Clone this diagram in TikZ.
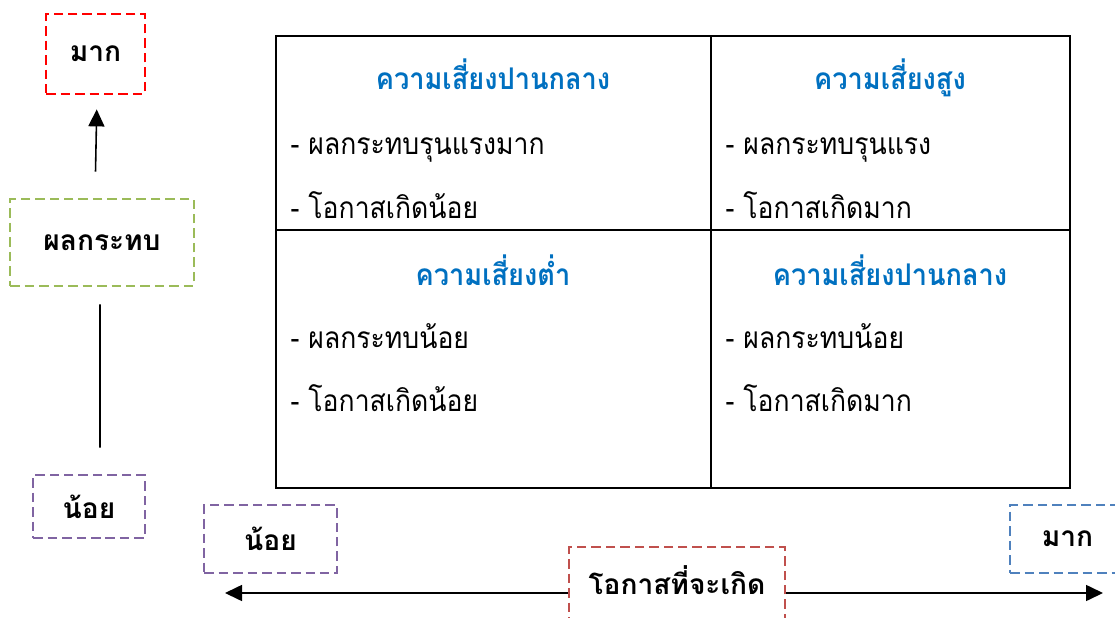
\documentclass[tikz,border=0pt]{standalone}
\usepackage{fontspec}
\setmainfont[Script=Thai]{Loma}
\newfontfamily\itemfont[Script=Thai,FakeStretch=0.89]{Loma}
\newfontfamily\headfont[Script=Thai,FakeStretch=0.91]{Loma}
\usepackage{tikz}
\usetikzlibrary{arrows.meta,positioning}
\definecolor{headblue}{RGB}{0,112,192}
\definecolor{boxred}{RGB}{255,0,0}
\definecolor{boxgreen}{RGB}{155,187,89}
\definecolor{boxpurple}{RGB}{128,100,162}
\definecolor{boxbrick}{RGB}{192,80,77}
\definecolor{boxblue}{RGB}{79,129,189}

\begin{document}
\begin{tikzpicture}
[x=0.02cm,y=-0.02cm,>={Triangle[length=0.34cm,width=0.32cm]},line width=0.9pt]
\tikzstyle{dashbox}=[draw,dash pattern=on 0.19cm off 0.1cm,line width=1.6pt,font=\bfseries\fontsize{16}{19}\selectfont]
\tikzstyle{head}=[anchor=base,text=headblue,font=\headfont\bfseries\fontsize{17}{20}\selectfont]
\tikzstyle{item}=[anchor=base west,font=\itemfont\fontsize{17}{20}\selectfont]

\useasboundingbox (0,0) rectangle (1115,618);

% risk matrix
\draw[line width=0.6pt] (276,36) rectangle (1070,488);
\draw[line width=0.6pt] (711,36) -- (711,488);
\draw[line width=0.6pt] (276,230) -- (1070,230);

\node[head] (midA) at (493,90) {ความเสี่ยงปานกลาง};
\node[item] (midA1) at (284,155) {- ผลกระทบรุนแรงมาก};
\node[item] (midA2) at (284,218) {- โอกาสเกิดน้อย};

\node[head] (hi) at (890,90) {ความเสี่ยงสูง};
\node[item] (hi1) at (719,155) {- ผลกระทบรุนแรง};
\node[item] (hi2) at (719,218) {- โอกาสเกิดมาก};

\node[head] (lo) at (493,285) {ความเสี่ยงต่ำ};
\node[item] (lo1) at (284,348) {- ผลกระทบน้อย};
\node[item] (lo2) at (284,411) {- โอกาสเกิดน้อย};

\node[head] (midB) at (890,285) {ความเสี่ยงปานกลาง};
\node[item] (midB1) at (719,348) {- ผลกระทบน้อย};
\node[item] (midB2) at (719,411) {- โอกาสเกิดมาก};

% impact axis
\node[dashbox,draw=boxred,minimum width=1.98cm,minimum height=1.6cm] (high) at (95.5,54) {มาก};
\node[dashbox,draw=boxgreen,minimum width=3.68cm,minimum height=1.74cm] (impact) at (102,242.5) {ผลกระทบ};
\node[dashbox,draw=boxpurple,minimum width=2.24cm,minimum height=1.26cm] (lowimp) at (89,506.5) {น้อย};

\draw[->,shorten <=0.52cm,shorten >=0.28cm] ([xshift=-0.14cm]impact.north) -- ([xshift=0.03cm]high.south);
\draw[shorten <=0.34cm,shorten >=0.52cm] ([xshift=-0.04cm]impact.south) -- ([xshift=0.22cm]lowimp.north);

% likelihood axis
\node[dashbox,draw=boxpurple,minimum width=2.66cm,minimum height=1.36cm] (lowlik) at (270.5,539) {น้อย};
\node[dashbox,draw=boxbrick,minimum width=4.32cm,minimum height=1.56cm,text depth=0.25cm] (likely) at (677,586) {โอกาสที่จะเกิด};
\node[dashbox,draw=boxblue,minimum width=2.3cm,minimum height=1.36cm] (highlik) at (1067.5,539) {มาก};

\coordinate (lefttip) at (225,593);
\coordinate (righttip) at (1103,593);
\draw[->] (likely.west |- lefttip) -- (lefttip);
\draw[->] (likely.east |- righttip) -- (righttip);
\end{tikzpicture}
\end{document}
